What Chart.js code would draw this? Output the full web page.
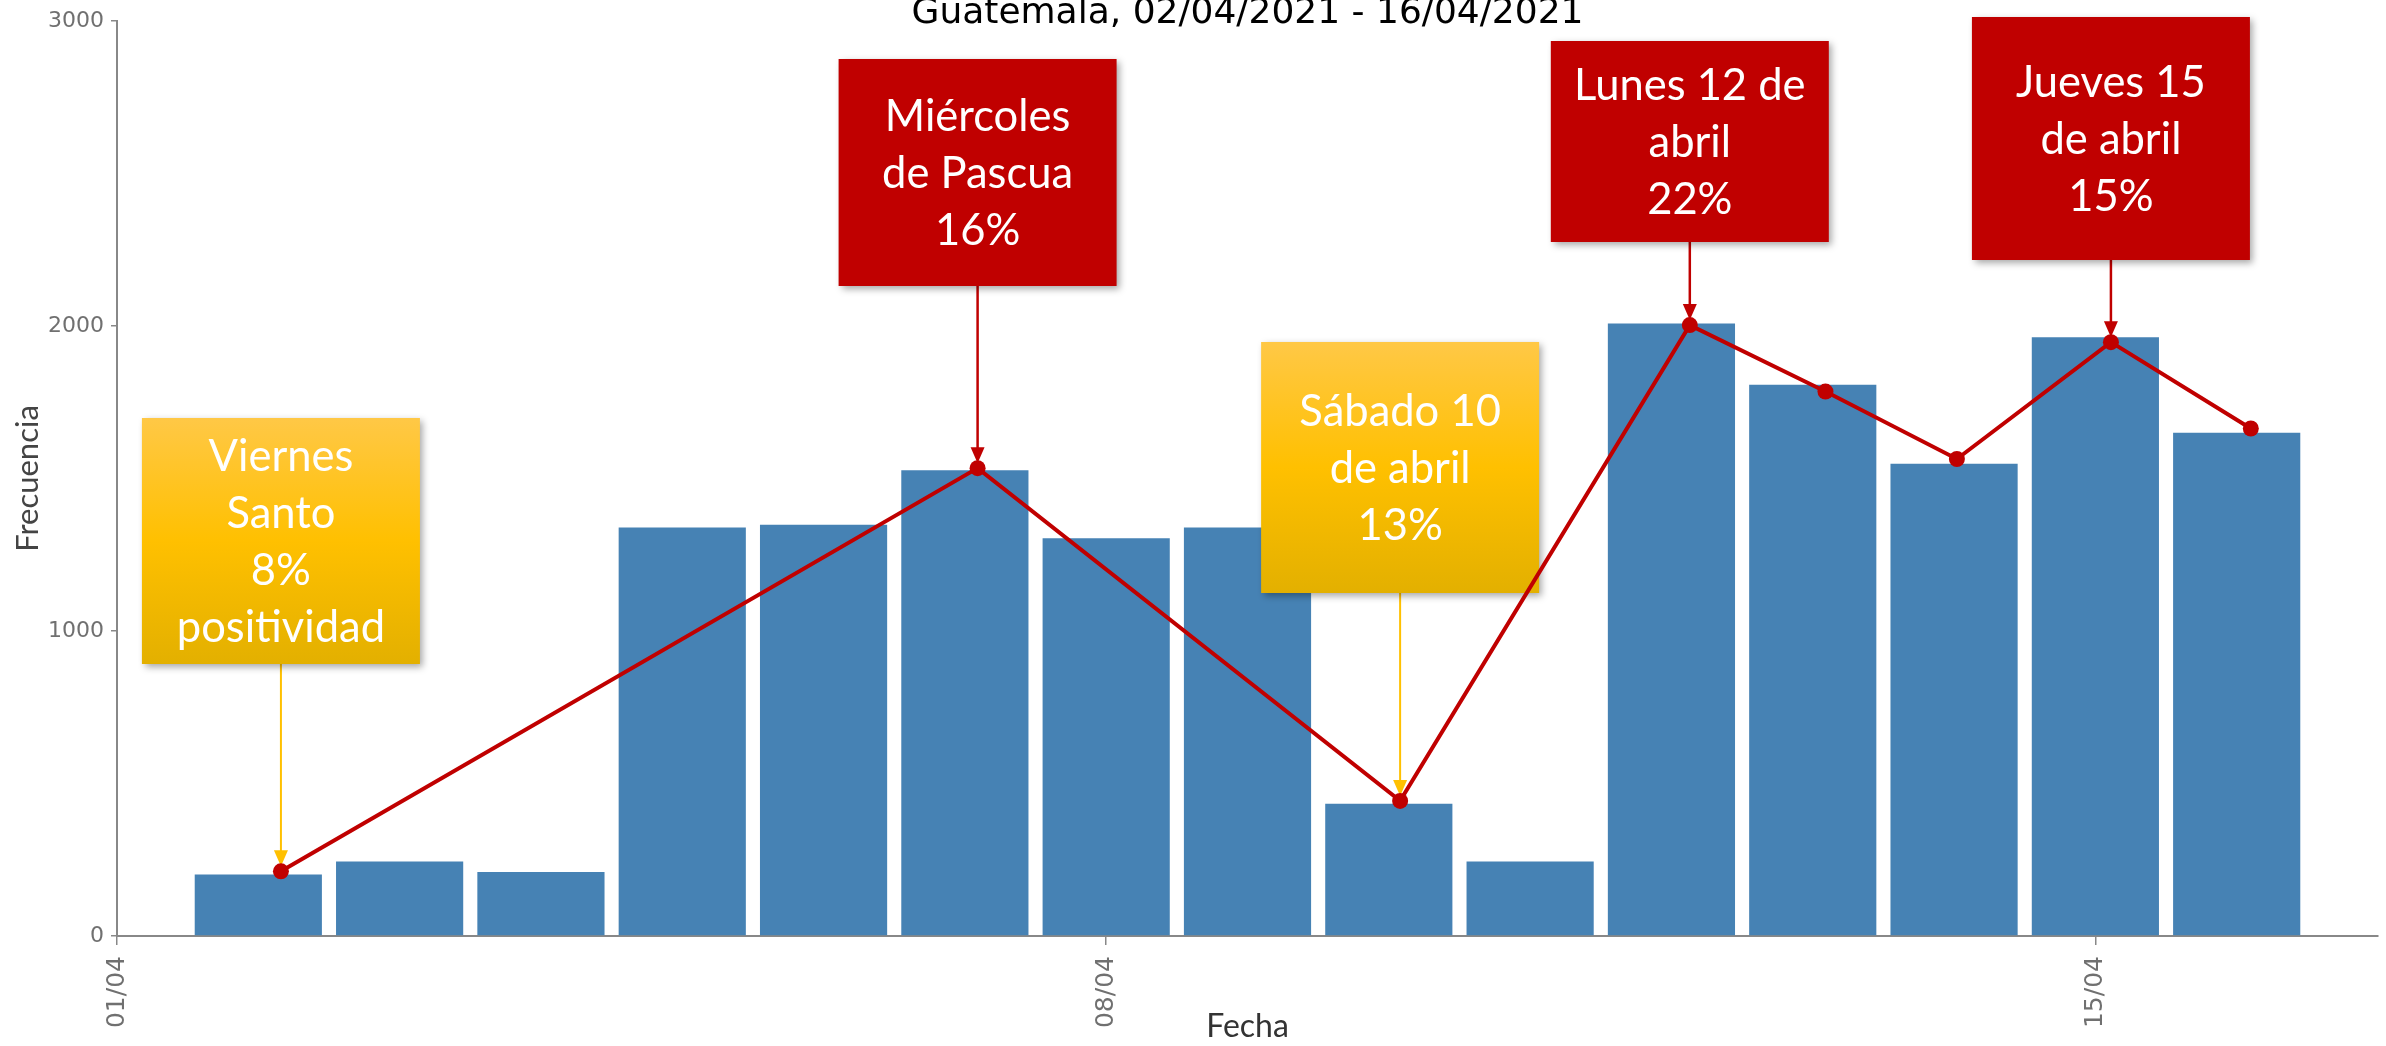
<!DOCTYPE html>
<html>
<head>
<meta charset="utf-8">
<script src="https://cdn.jsdelivr.net/npm/chart.js@4"></script>
<style>
  html, body { margin: 0; padding: 0; background: #fff; }
  #wrap { width: 2386px; height: 1046px; position: relative; }
</style>
</head>
<body>
<div id="wrap"><canvas id="grafica"></canvas></div>
<script>
// dias de abril 2021 y frecuencia por dia
const dias = [2, 3, 4, 5, 6, 7, 8, 9, 10, 11, 12, 13, 14, 15, 16];
const frecuencia = [202, 244, 210, 1339, 1348, 1527, 1304, 1339, 434, 244, 2008, 1807, 1548, 1963, 1650];

// linea roja dibujada encima (leida del dibujo, no cae justo en el centro de las barras)
const lineaX = [2.16, 7.09, 10.08, 12.13, 13.09, 14.02, 15.11, 16.10];
const lineaY = [212, 1534, 443, 2003, 1785, 1564, 1947, 1664];

const ticksX = [1, 8, 15];
const ticksY = [0, 1000, 2000, 3000];

const titulo = 'Guatemala, 02/04/2021 - 16/04/2021';

// cuadros de texto con flecha hacia un punto de la linea
const notas = [
    { punto: 0, texto: ['Viernes', 'Santo', '8%', 'positividad'], tipo: 'amarillo', top: 418, bottom: 664 },
    { punto: 1, texto: ['Miércoles', 'de Pascua', '16%'], tipo: 'rojo', top: 59, bottom: 286 },
    { punto: 2, texto: ['Sábado 10', 'de abril', '13%'], tipo: 'amarillo', top: 342, bottom: 593 },
    { punto: 3, texto: ['Lunes 12 de', 'abril', '22%'], tipo: 'rojo', top: 41, bottom: 242 },
    { punto: 6, texto: ['Jueves 15', 'de abril', '15%'], tipo: 'rojo', top: 17, bottom: 260 }
];

const notasPlugin = {
    id: 'notas',
    beforeDatasetDraw(chart, args) {
        if (args.index !== 1) return;
        const ctx = chart.ctx;
        const pts = chart.getDatasetMeta(1).data;
        notas.forEach(n => {
            const p = pts[n.punto];
            const w = 278;
            const x0 = p.x - w / 2;
            const h = n.bottom - n.top;
            const col = n.tipo === 'rojo' ? '#C00000' : '#FFC000';

            ctx.save();
            // flecha
            const tip = p.y - 5;
            ctx.strokeStyle = col;
            ctx.fillStyle = col;
            ctx.lineWidth = n.tipo === 'rojo' ? 2.5 : 2;
            ctx.beginPath();
            ctx.moveTo(p.x, n.bottom);
            ctx.lineTo(p.x, tip - 10);
            ctx.stroke();
            ctx.beginPath();
            ctx.moveTo(p.x, tip);
            ctx.lineTo(p.x - 7, tip - 16);
            ctx.lineTo(p.x + 7, tip - 16);
            ctx.closePath();
            ctx.fill();

            // cuadro
            if (n.tipo === 'rojo') {
                ctx.fillStyle = '#C00000';
            } else {
                const g = ctx.createLinearGradient(0, n.top, 0, n.bottom);
                g.addColorStop(0, '#FFC846');
                g.addColorStop(0.5, '#FFC000');
                g.addColorStop(1, '#E3B000');
                ctx.fillStyle = g;
            }
            ctx.shadowColor = 'rgba(0,0,0,0.35)';
            ctx.shadowBlur = 7;
            ctx.shadowOffsetX = 3;
            ctx.shadowOffsetY = 3;
            ctx.fillRect(x0, n.top, w, h);
            ctx.shadowColor = 'transparent';

            // texto
            ctx.fillStyle = '#fff';
            ctx.font = '43.5px Lato';
            ctx.textAlign = 'center';
            ctx.textBaseline = 'alphabetic';
            const cy = (n.top + n.bottom) / 2;
            n.texto.forEach((t, i) => {
                ctx.fillText(t, p.x, cy + (i - (n.texto.length - 1) / 2) * 57 + 15);
            });
            ctx.restore();
        });
    },
    afterDraw(chart) {
        const ctx = chart.ctx;
        const a = chart.chartArea;
        ctx.save();
        ctx.fillStyle = '#000';
        ctx.font = '36px "DejaVu Sans"';
        ctx.textAlign = 'center';
        ctx.textBaseline = 'alphabetic';
        ctx.fillText(titulo, (a.left + a.right) / 2, 23);
        ctx.restore();
    }
};

new Chart(document.getElementById('grafica'), {
    type: 'bar',
    data: {
        datasets: [{
            type: 'bar',
            data: dias.map((d, i) => ({ x: d, y: frecuencia[i] })),
            backgroundColor: '#4682B4',
            barPercentage: 0.9,
            categoryPercentage: 1,
            order: 2
        }, {
            type: 'line',
            data: lineaX.map((x, i) => ({ x: x, y: lineaY[i] })),
            borderColor: '#C00000',
            backgroundColor: '#C00000',
            borderWidth: 4,
            pointRadius: 8,
            pointBorderWidth: 0,
            tension: 0,
            order: 1
        }]
    },
    options: {
        responsive: true,
        maintainAspectRatio: false,
        animation: false,
        devicePixelRatio: 1,
        layout: { padding: { top: 21, right: 0, left: 0, bottom: 0 } },
        plugins: {
            legend: { display: false },
            tooltip: { enabled: false }
        },
        scales: {
            x: {
                type: 'linear',
                min: 1,
                max: 17,
                offset: false,
                grid: { drawOnChartArea: false, offset: false, color: '#888', tickLength: 9, lineWidth: 1.5 },
                border: { color: '#888', width: 2 },
                afterBuildTicks: s => { s.ticks = ticksX.map(v => ({ value: v })); },
                ticks: {
                    autoSkip: false,
                    minRotation: 90,
                    maxRotation: 90,
                    padding: 11,
                    color: '#707070',
                    font: { family: 'DejaVu Sans', size: 25 },
                    callback: v => String(v).padStart(2, '0') + '/04'
                },
                title: { display: true, text: 'Fecha', color: '#333', font: { family: 'Lato', size: 32 }, padding: { top: 0, bottom: 0 } },
                afterFit: s => { s.height = 110; }
            },
            y: {
                min: 0,
                max: 3000,
                grid: { drawOnChartArea: false, color: '#888', tickLength: 6, lineWidth: 1.5 },
                border: { color: '#888', width: 2 },
                afterBuildTicks: s => { s.ticks = ticksY.map(v => ({ value: v })); },
                ticks: { padding: 7, color: '#707070', font: { family: 'DejaVu Sans', size: 22 }, callback: v => String(v) },
                title: { display: true, text: 'Frecuencia', color: '#444', font: { family: 'Lato', size: 31 }, padding: { top: 9, bottom: 4 } },
                afterFit: s => { s.width = 117; }
            }
        }
    },
    plugins: [notasPlugin]
});
</script>
</body>
</html>
